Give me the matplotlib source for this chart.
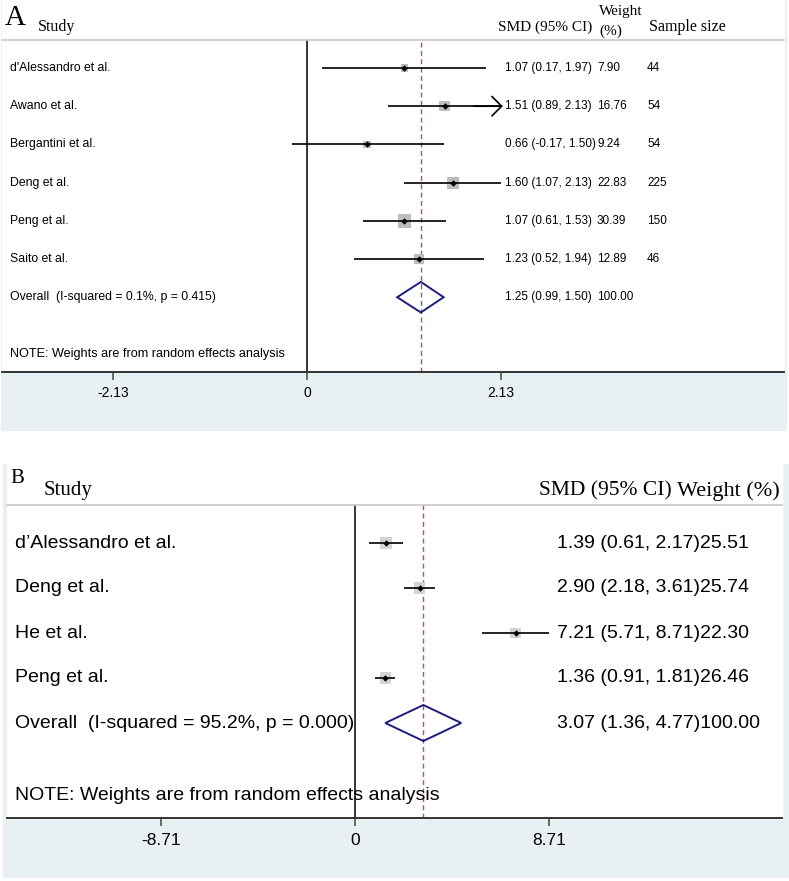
import numpy as np
import matplotlib.pyplot as plt
from matplotlib.patches import Rectangle, Polygon

# ---- data, panel A ----
studies_a = ["d'Alessandro et al.", "Awano et al.", "Bergantini et al.",
             "Deng et al.", "Peng et al.", "Saito et al."]
smd_a = [1.07, 1.51, 0.66, 1.60, 1.07, 1.23]
lo_a = [0.17, 0.89, -0.17, 1.07, 0.61, 0.52]
hi_a = [1.97, 2.13, 1.50, 2.13, 1.53, 1.94]
arrow_a = [False, True, False, False, False, False]
weight_a = [7.90, 16.76, 9.24, 22.83, 30.39, 12.89]
n_a = [44, 54, 54, 225, 150, 46]
overall_a = [1.25, 0.99, 1.50]
overall_lab_a = "Overall  (I-squared = 0.1%, p = 0.415)"
ticks_a = [-2.13, 0, 2.13]

# ---- data, panel B ----
studies_b = ["d\u2019Alessandro et al.", "Deng et al.", "He et al.", "Peng et al."]
smd_b = [1.39, 2.90, 7.21, 1.36]
lo_b = [0.61, 2.18, 5.71, 0.91]
hi_b = [2.17, 3.61, 8.71, 1.81]
weight_b = [25.51, 25.74, 22.30, 26.46]
overall_b = [3.07, 1.36, 4.77]
overall_lab_b = "Overall  (I-squared = 95.2%, p = 0.000)"
ticks_b = [-8.71, 0, 8.71]

note = "NOTE: Weights are from random effects analysis"

W, H = 789, 881
fig = plt.figure(figsize=(W / 100, H / 100), dpi=100)
BLUE = '#e9f0f3'
SANS = 'Liberation Sans'
SERIF = 'Liberation Serif'


def box(x0, y0, x1, y1):
    # pixel box (top-left origin) -> figure fraction rect
    return [x0 / W, 1 - y1 / H, (x1 - x0) / W, (y1 - y0) / H]


def fx(px):
    return px / W


def fy(py):
    return 1 - py / H


def panel(outer, inner, axbox, zero_px, unit_px, row0, row_step):
    bg = fig.add_axes(box(*outer))
    bg.set_xlim(0, 1); bg.set_ylim(0, 1); bg.axis('off')
    bg.add_patch(Rectangle((0, 0), 1, 1, color=BLUE, zorder=0))
    ix0, iy0, ix1, iy1 = inner
    ox0, oy0, ox1, oy1 = outer
    bg.add_patch(Rectangle(((ix0 - ox0) / (ox1 - ox0), 1 - (iy1 - oy0) / (oy1 - oy0)),
                           (ix1 - ix0) / (ox1 - ox0), (iy1 - iy0) / (oy1 - oy0),
                           color='white', zorder=1))
    ax = fig.add_axes(box(*axbox))
    x0, y0, x1, y1 = axbox
    ax.set_xlim((x0 - zero_px) / unit_px, (x1 - zero_px) / unit_px)
    ax.set_ylim((y1 - row0) / row_step, (y0 - row0) / row_step)
    ax.patch.set_alpha(0)
    for s in ['top', 'left', 'right']:
        ax.spines[s].set_visible(False)
    ax.spines['bottom'].set_color('#333333')
    ax.spines['bottom'].set_linewidth(1.4)
    ax.set_yticks([])
    # header separator
    fig.add_artist(plt.Line2D([fx(ix0), fx(ix1)], [fy(y0), fy(y0)],
                              color='#c8c8c8', lw=1.2))
    return ax


def forest(ax, smd, lo, hi, w, overall, k_box, box_col, arrows, ci_lw, dh):
    rows = np.arange(len(smd))
    ax.axvline(0, color='black', lw=1.1, zorder=2)
    ax.axvline(overall[0], color='#c44b5c', lw=1.0, ls=(0, (3.5, 2.5)), zorder=2)
    for i in rows:
        ax.plot([lo[i], hi[i]], [i, i], color='black', lw=ci_lw, zorder=3,
                solid_capstyle='butt')
        if arrows[i]:
            ax.annotate('', xy=(hi[i] + 0.02, i), xytext=(hi[i] - 0.3, i),
                        arrowprops=dict(arrowstyle='->,head_length=0.7,head_width=0.7',
                                        color='black', lw=ci_lw, mutation_scale=10,
                                        shrinkA=0, shrinkB=0), zorder=3)
    ax.scatter(smd, rows, s=k_box * np.array(w), marker='s', color=box_col,
               lw=0, zorder=2.5)
    ax.scatter(smd, rows, s=11, marker='D', color='black', lw=0, zorder=4)
    r = len(smd)
    est, l, h = overall
    ax.add_patch(Polygon([[l, r], [est, r - dh], [h, r], [est, r + dh]],
                         closed=True, fill=False, edgecolor='#1c1c7e', lw=1.4, zorder=4))


def ax_x(ax_box, px):
    return (px - ax_box[0]) / (ax_box[2] - ax_box[0])


# ================= Panel A =================
boxA = (2, 40, 784, 372)
axA = panel(outer=(1, 0, 787, 431), inner=(2, 0, 784, 372),
            axbox=boxA, zero_px=307, unit_px=91.08,
            row0=68, row_step=38.2)
forest(axA, smd_a, lo_a, hi_a, weight_a, overall_a, k_box=3.3,
       box_col='#bdbdbd', arrows=arrow_a, ci_lw=1.2, dh=0.4)
axA.set_xticks(ticks_a)
axA.set_xticklabels([f'{t:g}' if t == 0 else f'{t:.2f}' for t in ticks_a],
                    fontsize=10, family=SANS)
axA.tick_params(axis='x', length=6, width=1.1, color='#444444', pad=4)

fsA = 8.8
fsA_num = 8.5
tr = axA.get_yaxis_transform()
for i, name in enumerate(studies_a):
    axA.text(ax_x(boxA, 10), i, name, transform=tr, fontsize=fsA, family=SANS, va='center')
    axA.text(ax_x(boxA, 505), i, f'{smd_a[i]:.2f} ({lo_a[i]:.2f}, {hi_a[i]:.2f})',
             transform=tr, fontsize=fsA_num, family=SANS, va='center')
    axA.text(ax_x(boxA, 597), i, f'{weight_a[i]:.2f}', transform=tr, fontsize=fsA_num,
             family=SANS, va='center')
    axA.text(ax_x(boxA, 647), i, f'{n_a[i]}', transform=tr, fontsize=fsA_num,
             family=SANS, va='center')
r = len(studies_a)
axA.text(ax_x(boxA, 10), r, overall_lab_a, transform=tr, fontsize=fsA, family=SANS, va='center')
axA.text(ax_x(boxA, 505), r, f'{overall_a[0]:.2f} ({overall_a[1]:.2f}, {overall_a[2]:.2f})',
         transform=tr, fontsize=fsA_num, family=SANS, va='center')
axA.text(ax_x(boxA, 597), r, '100.00', transform=tr, fontsize=fsA_num, family=SANS, va='center')
axA.text(ax_x(boxA, 10), 7.5, note, transform=tr, fontsize=9.1, family=SANS, va='center')

fig.text(fx(5), fy(18), 'A', fontsize=21, family=SERIF, va='center')
fig.text(fx(38), fy(27), 'Study', fontsize=11.5, family=SERIF, va='center')
fig.text(fx(498), fy(27), 'SMD (95% CI)', fontsize=11, family=SERIF, va='center')
fig.text(fx(599), fy(12), 'Weight', fontsize=11, family=SERIF, va='center')
fig.text(fx(599), fy(31), '(%)', fontsize=11, family=SERIF, va='center')
fig.text(fx(649), fy(27), 'Sample size', fontsize=11.5, family=SERIF, va='center')

# ================= Panel B =================
boxB = (7, 505, 782, 818)
axB = panel(outer=(3, 464, 789, 878), inner=(7, 464, 782, 818),
            axbox=boxB, zero_px=355, unit_px=22.27, row0=543, row_step=45)
forest(axB, smd_b, lo_b, hi_b, weight_b, overall_b, k_box=2.6,
       box_col='#d3d3d3', arrows=[False] * 4, ci_lw=1.2, dh=0.4)
axB.set_xticks(ticks_b)
axB.set_xticklabels([f'{t:g}' if t == 0 else f'{t:.2f}' for t in ticks_b],
                    fontsize=12.5, family=SANS)
axB.tick_params(axis='x', length=6, width=1.1, color='#444444', pad=5)

fsB = 14
trB = axB.get_yaxis_transform()
for i, name in enumerate(studies_b):
    axB.text(ax_x(boxB, 15), i, name, transform=trB, fontsize=fsB, family=SANS, va='center')
    axB.text(ax_x(boxB, 557), i,
             f'{smd_b[i]:.2f} ({lo_b[i]:.2f}, {hi_b[i]:.2f}){weight_b[i]:.2f}',
             transform=trB, fontsize=fsB, family=SANS, va='center')
r = len(studies_b)
axB.text(ax_x(boxB, 15), r, overall_lab_b, transform=trB, fontsize=fsB, family=SANS, va='center')
axB.text(ax_x(boxB, 557), r,
         f'{overall_b[0]:.2f} ({overall_b[1]:.2f}, {overall_b[2]:.2f})100.00',
         transform=trB, fontsize=fsB, family=SANS, va='center')
axB.text(ax_x(boxB, 15), 5.6, note, transform=trB, fontsize=fsB, family=SANS, va='center')

fig.text(fx(10), fy(478), 'B', fontsize=15, family=SERIF, va='center')
fig.text(fx(44), fy(491), 'Study', fontsize=15, family=SERIF, va='center')
fig.text(fx(539), fy(491), 'SMD (95% CI)', fontsize=15.5, family=SERIF, va='center')
fig.text(fx(677), fy(491), 'Weight (%)', fontsize=16, family=SERIF, va='center')

fig.savefig('out.png', dpi=100)
